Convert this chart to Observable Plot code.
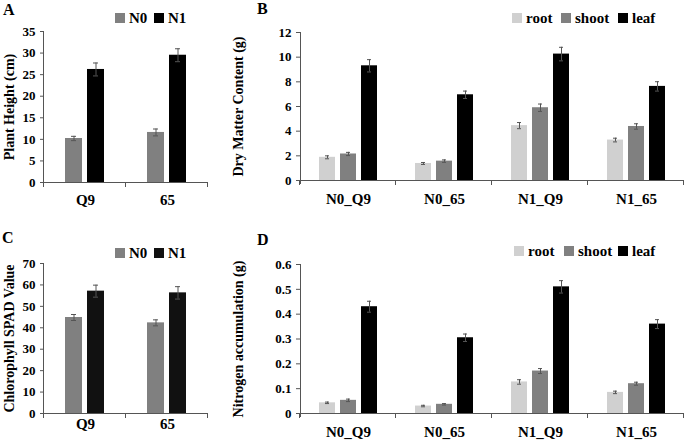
<!DOCTYPE html>
<html>
<head>
<meta charset="utf-8">
<script src="https://cdn.jsdelivr.net/npm/d3@7"></script>
<script src="https://cdn.jsdelivr.net/npm/@observablehq/plot@0.6"></script>
<style>
  body { margin: 0; background: #fff; }
  #wrap { position: relative; width: 685px; height: 440px; background: #fff; overflow: hidden; }
  #wrap svg { position: absolute; }
</style>
</head>
<body>
<div id="wrap"></div>
<script>
// ---------- Data ----------
const cultivars = ["Q9", "65"];
const nLevels = ["N0", "N1"];
const plantHeightN0 = [10.2, 11.6];
const plantHeightN0Err = [0.5, 0.8];
const plantHeightN1 = [26.2, 29.5];
const plantHeightN1Err = [1.5, 1.5];

const spadN0 = [44.8, 42.3];
const spadN0Err = [1.4, 1.4];
const spadN1 = [57.1, 56.3];
const spadN1Err = [2.8, 2.9];

const groups = ["N0_Q9", "N0_65", "N1_Q9", "N1_65"];
const organs = ["root", "shoot", "leaf"];
const dmRoot = [1.88, 1.38, 4.45, 3.28];
const dmRootErr = [0.12, 0.08, 0.25, 0.15];
const dmShoot = [2.15, 1.57, 5.9, 4.38];
const dmShootErr = [0.13, 0.1, 0.3, 0.22];
const dmLeaf = [9.3, 6.95, 10.25, 7.63];
const dmLeafErr = [0.5, 0.3, 0.55, 0.38];

const nRoot = [0.043, 0.030, 0.127, 0.085];
const nRootErr = [0.003, 0.003, 0.009, 0.005];
const nShoot = [0.053, 0.037, 0.171, 0.120];
const nShootErr = [0.005, 0.003, 0.010, 0.006];
const nLeaf = [0.430, 0.305, 0.510, 0.360];
const nLeafErr = [0.022, 0.015, 0.025, 0.018];

const ticksA = [0, 5, 10, 15, 20, 25, 30, 35];
const ticksB = [0, 2, 4, 6, 8, 10, 12];
const ticksC = [0, 10, 20, 30, 40, 50, 60, 70];
const ticksD = [0, 0.1, 0.2, 0.3, 0.4, 0.5, 0.6];

// ---------- Helpers ----------
const FONT = "'Liberation Serif', 'Times New Roman', serif";
const AXIS = "#555";
const ERR = "#555";

function table(cats, series, valueArrays, errArrays) {
  return cats.flatMap((c, i) => series.map((s, j) => ({cat: c, s, v: valueArrays[j][i], e: errArrays[j][i]})));
}

function panel({data, cats, series, colors, ticks, ymax, label, width, height, margins, xPad, fxPad}) {
  const svg = Plot.plot({
    width, height,
    marginLeft: margins[0], marginRight: margins[1], marginTop: margins[2], marginBottom: margins[3],
    style: {fontFamily: FONT, fontWeight: "bold", fontSize: "13px", color: "#000", background: "transparent", overflow: "visible"},
    fx: {domain: cats, padding: 0, label: null},
    x: {domain: series, paddingInner: xPad[0], paddingOuter: xPad[1], axis: null},
    y: {domain: [0, ymax], label: null},
    color: {domain: series, range: colors},
    marks: [
      Plot.axisFx({anchor: "bottom", tickSize: 0, tickPadding: fxPad, fontSize: 15, label: null}),
      Plot.axisY({ticks, tickFormat: d => String(d), tickSize: 4, tickPadding: 5, fontSize: 13, stroke: AXIS, label: null}),
      Plot.axisY({ticks: [], label, labelAnchor: "center", labelArrow: false, fontSize: 14}),
      Plot.barY(data, {fx: "cat", x: "s", y: "v", fill: "s"}),
      Plot.ruleX(data, {fx: "cat", x: "s", y1: d => d.v - d.e, y2: d => d.v + d.e, stroke: ERR, strokeWidth: 1}),
      Plot.tickY(data, {fx: "cat", x: "s", y: d => d.v + d.e, stroke: ERR, insetLeft: 6, insetRight: 6}),
      Plot.tickY(data, {fx: "cat", x: "s", y: d => d.v - d.e, stroke: ERR, insetLeft: 6, insetRight: 6})
    ]
  });
  // axis lines & category boundary ticks, from the plot's own scales
  const fx = svg.scale("fx");
  const y = svg.scale("y");
  const x0 = fx.range[0], x1 = fx.range[1];
  const y0 = y.apply(0), yTop = y.apply(ymax);
  const g = d3.select(svg).append("g").attr("stroke", AXIS).attr("stroke-width", 1).attr("fill", "none");
  g.append("line").attr("x1", x0).attr("x2", x1).attr("y1", y0 + 0.5).attr("y2", y0 + 0.5);
  g.append("line").attr("x1", x0 + 0.5).attr("x2", x0 + 0.5).attr("y1", yTop).attr("y2", y0 + 4);
  const bounds = cats.map(c => fx.apply(c)).concat([fx.apply(cats[cats.length - 1]) + fx.bandwidth]);
  bounds.forEach(b => g.append("line").attr("x1", Math.round(b) - 0.5).attr("x2", Math.round(b) - 0.5).attr("y1", y0).attr("y2", y0 + 5));
  return svg;
}

function addLegend(svg, items, y) {
  const g = d3.select(svg).append("g").attr("font-family", FONT).attr("font-weight", "bold")
    .attr("font-size", 15).attr("text-anchor", "start");
  items.forEach(([name, color, x]) => {
    g.append("rect").attr("x", x).attr("y", y - 10).attr("width", 10).attr("height", 10).attr("fill", color);
    g.append("text").attr("x", x + 14).attr("y", y).text(name);
  });
}

function addLetter(svg, letter, x, y) {
  d3.select(svg).append("text").attr("x", x).attr("y", y).attr("font-family", FONT).attr("text-anchor", "start")
    .attr("font-weight", "bold").attr("font-size", 16).text(letter);
}

const wrap = document.getElementById("wrap");
function place(svg, left, top) { svg.style.left = left + "px"; svg.style.top = top + "px"; wrap.appendChild(svg); }

// ---------- Panel A ----------
const svgA = panel({
  data: table(cultivars, nLevels, [plantHeightN0, plantHeightN1], [plantHeightN0Err, plantHeightN1Err]),
  cats: cultivars, series: nLevels, colors: ["#808080", "#000000"], ticks: ticksA, ymax: 35,
  label: "Plant Height (cm)", width: 230, height: 220, margins: [43, 22, 31, 38],
  xPad: [0.22, 0.95], fxPad: 12
});
addLegend(svgA, [["N0", "#808080", 115], ["N1", "#000000", 154]], 23);
addLetter(svgA, "A", 3, 15);
place(svgA, 0, 0);

// ---------- Panel B ----------
const svgB = panel({
  data: table(groups, organs, [dmRoot, dmShoot, dmLeaf], [dmRootErr, dmShootErr, dmLeafErr]),
  cats: groups, series: organs, colors: ["#d0d0d0", "#808080", "#000000"], ticks: ticksB, ymax: 12,
  label: "Dry Matter Content (g)", width: 455, height: 220, margins: [70, 1, 32, 40],
  xPad: [0.22, 0.865], fxPad: 13
});
addLegend(svgB, [["root", "#d0d0d0", 282], ["shoot", "#808080", 331], ["leaf", "#000000", 388]], 23);
addLetter(svgB, "B", 27, 14);
place(svgB, 230, 0);

// ---------- Panel C ----------
const svgC = panel({
  data: table(cultivars, nLevels, [spadN0, spadN1], [spadN0Err, spadN1Err]),
  cats: cultivars, series: nLevels, colors: ["#808080", "#111111"], ticks: ticksC, ymax: 70,
  label: "Chlorophyll SPAD Value", width: 230, height: 220, margins: [43, 22, 43, 27],
  xPad: [0.22, 0.95], fxPad: 5
});
addLegend(svgC, [["N0", "#808080", 115], ["N1", "#111111", 154]], 38);
addLetter(svgC, "C", 2, 23);
place(svgC, 0, 220);

// ---------- Panel D ----------
const svgD = panel({
  data: table(groups, organs, [nRoot, nShoot, nLeaf], [nRootErr, nShootErr, nLeafErr]),
  cats: groups, series: organs, colors: ["#d0d0d0", "#808080", "#000000"], ticks: ticksD, ymax: 0.6,
  label: "Nitrogen accumulation (g)", width: 455, height: 220, margins: [70, 1, 44, 27],
  xPad: [0.22, 0.865], fxPad: 13
});
addLegend(svgD, [["root", "#d0d0d0", 284], ["shoot", "#808080", 334], ["leaf", "#000000", 388]], 36);
addLetter(svgD, "D", 27, 25);
place(svgD, 230, 220);
</script>
</body>
</html>
